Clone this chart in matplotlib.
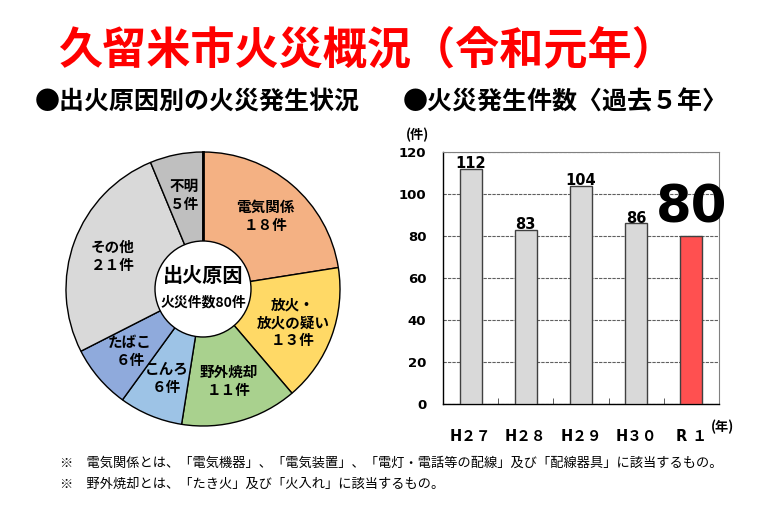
import matplotlib
matplotlib.use("Agg")
import matplotlib.pyplot as plt
import numpy as np

plt.rcParams['font.family'] = ['Noto Sans CJK JP', 'DejaVu Sans']

# ---- data ----
cause_names = ["電気関係", "放火・\n放火の疑い", "野外焼却", "こんろ", "たばこ", "その他", "不明"]
cause_counts = [18, 13, 11, 6, 6, 21, 5]
cause_count_labels = ["１８件", "１３件", "１１件", "６件", "６件", "２１件", "５件"]
cause_colors = ["#F4B183", "#FFD966", "#A9D18E", "#9DC3E6", "#8FAADC", "#D9D9D9", "#BFBFBF"]

years = ["H２７", "H２８", "H２９", "H３０", "R １"]
fires = [112, 83, 104, 86, 80]
bar_colors = ["#D9D9D9", "#D9D9D9", "#D9D9D9", "#D9D9D9", "#FF5050"]
yticks = [0, 20, 40, 60, 80, 100, 120]

W, H = 783, 517
fig = plt.figure(figsize=(W / 100, H / 100), dpi=100)
fig.patch.set_facecolor("white")

NUM = ['DejaVu Sans', 'Noto Sans CJK JP']

def px(x, y):
    return x / W, 1 - y / H

# ---- titles ----
fig.text(*px(367, 50), "久留米市火災概況（令和元年）", color="#FF0000",
         fontsize=31.8, fontweight="bold", ha="center", va="center")
fig.text(*px(35, 102), "●出火原因別の火災発生状況", fontsize=18, fontweight="bold",
         ha="left", va="center")
fig.text(*px(403, 102), "●火災発生件数〈過去５年〉", fontsize=18, fontweight="bold",
         ha="left", va="center")

# ---- pie ----
cx, cy, R = 203, 289, 137
lim = 1.05
size = 2 * lim * R
axp = fig.add_axes([(cx - size / 2) / W, 1 - (cy + size / 2) / H, size / W, size / H])
wedges, _ = axp.pie(cause_counts, colors=cause_colors, startangle=90, counterclock=False,
                    radius=1.0, wedgeprops=dict(edgecolor="black", linewidth=1.0))
axp.set_xlim(-lim, lim)
axp.set_ylim(-lim, lim)
axp.set_aspect("equal")
axp.axis("off")
axp.plot([0, 0], [0, 1], color="black", lw=2.0, zorder=4)
axp.add_patch(plt.Circle((0, 0), 48 / R, facecolor="white", edgecolor="black", lw=1.0, zorder=5))
axp.text(0, 0.1, "出火原因", fontsize=14.5, fontweight="bold", ha="center", va="center", zorder=6)
axp.text(0, -0.1, "火災件数80件", fontsize=10, fontweight="bold", ha="center", va="center", zorder=6)

total = sum(cause_counts)
cum = np.cumsum([0] + cause_counts)
for i, (name, cl) in enumerate(zip(cause_names, cause_count_labels)):
    mid = (cum[i] + cum[i + 1]) / 2 / total * 2 * np.pi
    r = 0.70
    x = r * np.sin(mid)
    y = r * np.cos(mid)
    axp.text(x, y, name + "\n" + cl, fontsize=10.5, fontweight="bold", ha="center",
             va="center", linespacing=1.15, zorder=6)

# ---- bars ----
axb = fig.add_axes([443 / W, 1 - 404 / H, 276 / W, 252 / H])
xs = np.arange(len(years))
axb.bar(xs, fires, width=0.4, color=bar_colors, edgecolor="#404040", linewidth=1.0, zorder=3)
axb.set_xlim(-0.5, len(years) - 0.5)
axb.set_ylim(0, 120)
axb.set_yticks(yticks)
axb.set_yticklabels([str(v) for v in yticks], fontsize=9.5, fontweight="bold", family=NUM)
axb.set_xticks(xs)
axb.set_xticklabels(years, fontsize=10.5, fontweight="bold", family=NUM)
axb.set_xticks(np.arange(0.5, len(years) - 1, 1), minor=True)
axb.tick_params(axis="x", which="major", length=0, pad=18)
axb.tick_params(axis="x", which="minor", length=4, direction="in", color="#404040")
axb.tick_params(axis="y", length=0, pad=12)
axb.yaxis.grid(True, color="#606060", linestyle=(0, (3, 1)), linewidth=0.8, zorder=0)
axb.set_axisbelow(True)
for s in ["top", "right"]:
    axb.spines[s].set_color("#808080")
    axb.spines[s].set_linewidth(0.8)
for s in ["left", "bottom"]:
    axb.spines[s].set_color("black")
    axb.spines[s].set_linewidth(1.0)

for i, v in enumerate(fires):
    if i == len(fires) - 1:
        axb.annotate(str(v), (xs[i], v), xytext=(0, 10), textcoords="offset points",
                     ha="center", va="baseline", fontsize=37, fontweight="bold",
                     family=NUM, zorder=5)
    else:
        axb.annotate(str(v), (xs[i], v), xytext=(0, 0.5), textcoords="offset points",
                     ha="center", va="baseline", fontsize=10.5, fontweight="bold",
                     family=NUM, zorder=5)

fig.text(*px(417, 135), "(件)", fontsize=9.5, fontweight="bold", ha="center", va="center")
fig.text(*px(722, 427), "(年)", fontsize=9.5, fontweight="bold", ha="center", va="center")

# ---- footnotes ----
fig.text(*px(60, 463), "※　電気関係とは、「電気機器」、「電気装置」、「電灯・電話等の配線」及び「配線器具」に該当するもの。",
         fontsize=9.5, ha="left", va="center")
fig.text(*px(60, 484), "※　野外焼却とは、「たき火」及び「火入れ」に該当するもの。",
         fontsize=9.5, ha="left", va="center")

fig.savefig("out.png", dpi=100, facecolor="white")
